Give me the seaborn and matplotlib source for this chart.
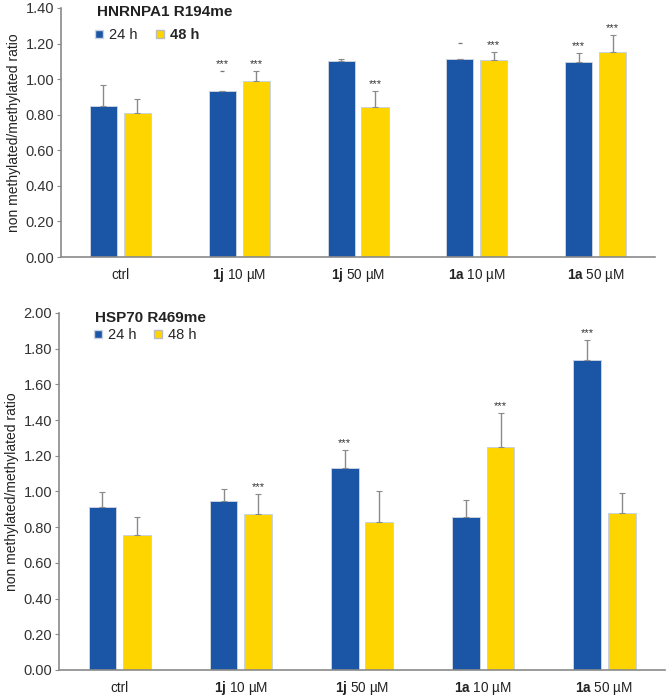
import numpy as np
import pandas as pd
import matplotlib
matplotlib.use('Agg')
import matplotlib.pyplot as plt
import seaborn as sns
from matplotlib.ticker import FormatStrFormatter
from matplotlib.lines import Line2D

CATEGORIES = ["ctrl", r"$\mathbf{1j}$ 10 µM", r"$\mathbf{1j}$ 50 µM",
              r"$\mathbf{1a}$ 10 µM", r"$\mathbf{1a}$ 50 µM"]
TIMES = ["24 h", "48 h"]

# HNRNPA1 R194me
hn_24 = [0.85, 0.935, 1.103, 1.113, 1.098]
hn_24_err = [0.115, 0.0, 0.01, 0.0, 0.047]
hn_24_dash = [np.nan, 1.047, np.nan, 1.201, np.nan]
hn_48 = [0.81, 0.989, 0.841, 1.107, 1.15]
hn_48_err = [0.078, 0.058, 0.094, 0.043, 0.098]
hn_48_dash = [np.nan] * 5
hn_sig_24 = ["", "***", "", "", "***"]
hn_sig_48 = ["", "***", "***", "***", "***"]

# HSP70 R469me
hsp_24 = [0.913, 0.947, 1.129, 0.857, 1.736]
hsp_24_err = [0.086, 0.065, 0.104, 0.095, 0.111]
hsp_48 = [0.754, 0.875, 0.831, 1.25, 0.879]
hsp_48_err = [0.103, 0.109, 0.174, 0.188, 0.115]
hsp_dash = [np.nan] * 5
hsp_sig_24 = ["", "", "***", "", "***"]
hsp_sig_48 = ["", "***", "", "***", ""]

BLUE = "#1b55a5"
YELLOW = "#ffd500"
GREY = "#8a8a8a"

sns.set_style("white")
plt.rcParams['font.family'] = ['Liberation Sans', 'DejaVu Sans']
plt.rcParams['mathtext.fontset'] = 'custom'
plt.rcParams['mathtext.rm'] = 'Liberation Sans'
plt.rcParams['mathtext.bf'] = 'Liberation Sans:bold'
plt.rcParams['mathtext.default'] = 'regular'


def panel(ax, title, series, ymax, leg_y, bold48):
    (v24, e24, d24, s24), (v48, e48, d48, s48) = series
    df = pd.DataFrame({
        "cat": CATEGORIES * 2,
        "time": [TIMES[0]] * 5 + [TIMES[1]] * 5,
        "val": list(v24) + list(v48),
    })
    sns.barplot(data=df, x="cat", y="val", hue="time", order=CATEGORIES,
                hue_order=TIMES, palette=[BLUE, YELLOW], saturation=1,
                errorbar=None, width=0.57, gap=0.2, edgecolor="#c9d2e0",
                linewidth=0.7, legend=False, ax=ax)
    for cont, (vals, errs, dashes, sigs) in zip(ax.containers, series):
        xs = [p.get_x() + p.get_width() / 2 for p in cont.patches]
        ax.errorbar(xs, vals, yerr=[np.zeros(5), errs], fmt="none",
                    ecolor=GREY, elinewidth=1, capsize=2, capthick=0.8)
        ax.plot(xs, dashes, ls="", marker="_", markersize=3, mew=0.9, color="#777777")
        for x, v, e, d, s in zip(xs, vals, errs, dashes, sigs):
            if s:
                top = d if not np.isnan(d) else v + e
                ax.annotate(s, (x, top), xytext=(0, 1.5), textcoords="offset points",
                            ha="center", va="bottom", fontsize=8, color="#333333")
    ax.set_xlim(-0.5, 4.5)
    ax.set_ylim(0, ymax)
    ax.set_yticks(np.arange(0, ymax + 1e-6, 0.2))
    ax.yaxis.set_major_formatter(FormatStrFormatter("%.2f"))
    ax.set_xlabel("")
    ax.set_ylabel("non methylated/methylated ratio", fontsize=10, color="#222222",
                  labelpad=3)
    ax.tick_params(axis="y", left=True, length=3, width=0.8, color=GREY,
                   labelsize=10.5, labelcolor="#333333", pad=2)
    ax.tick_params(axis="x", bottom=False, labelsize=9.8, labelcolor="#222222", pad=12)
    for lbl in ax.get_xticklabels():
        lbl.set_verticalalignment("baseline")
    sns.despine(ax=ax)
    for sp in ["left", "bottom"]:
        ax.spines[sp].set_color(GREY)
        ax.spines[sp].set_linewidth(1.2)
    ax.text(0.06, 0.985, title, transform=ax.transAxes, fontsize=11,
            fontweight="bold", va="center", color="#222222")
    handles = [Line2D([], [], marker="s", ls="", color=BLUE, markersize=6,
                      markeredgecolor="#c9d2e0"),
               Line2D([], [], marker="s", ls="", color=YELLOW, markersize=6,
                      markeredgecolor="#bbbbbb")]
    leg = ax.legend(handles, TIMES, ncol=2, frameon=False, loc="center left",
                    bbox_to_anchor=(0.03, leg_y), fontsize=10.5, handletextpad=0.2,
                    columnspacing=1.0, handlelength=1.0)
    if bold48:
        leg.get_texts()[1].set_fontweight("bold")


fig = plt.figure(figsize=(6.66, 6.95), dpi=100)
ax1 = fig.add_axes([0.0916, 0.6302, 0.892, 0.3583])
ax2 = fig.add_axes([0.0886, 0.036, 0.91, 0.5137])

panel(ax1, "HNRNPA1 R194me",
      [(hn_24, hn_24_err, hn_24_dash, hn_sig_24),
       (hn_48, hn_48_err, hn_48_dash, hn_sig_48)], 1.40, 0.892, True)
panel(ax2, "HSP70 R469me",
      [(hsp_24, hsp_24_err, hsp_dash, hsp_sig_24),
       (hsp_48, hsp_48_err, hsp_dash, hsp_sig_48)], 2.00, 0.938, False)

fig.savefig("out.png", dpi=100)
